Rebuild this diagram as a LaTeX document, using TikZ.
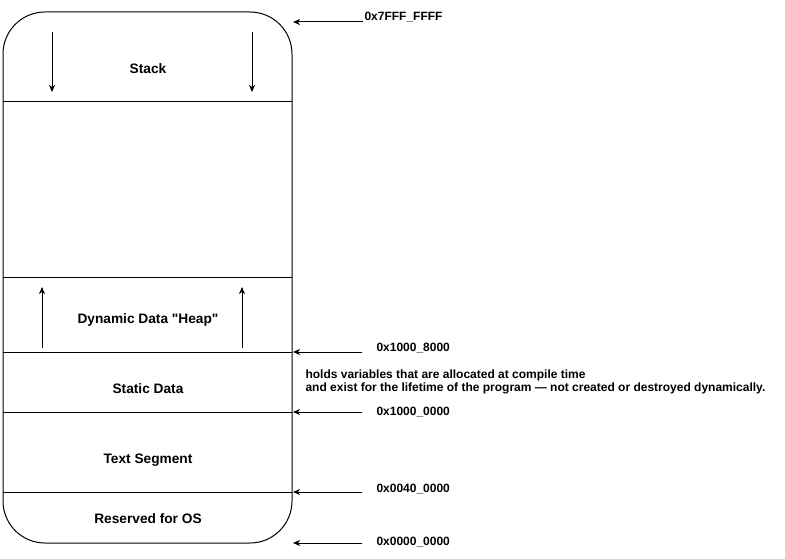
\documentclass[tikz,border=0pt]{standalone}
\usepackage{fontspec}
\setmainfont{Liberation Sans}[Ligatures=TeXOff]
\usetikzlibrary{arrows.meta}
\begin{document}
\begin{tikzpicture}[x=1pt,y=-1pt,
  line width=1pt,
  arr/.style={-{Stealth[length=7pt,width=6pt,inset=2pt]}, line width=1pt},
  lbl/.style={font=\fontsize{13.7}{16}\selectfont\bfseries, inner sep=0pt, text height=10pt, text depth=0pt},
  addr/.style={font=\fontsize{12}{14}\selectfont\bfseries, inner sep=0pt, anchor=west},
  note/.style={font=\fontsize{12}{13}\selectfont\bfseries, inner sep=0pt, anchor=north west, align=left}]
\useasboundingbox (0,0) rectangle (785,559);
% memory box
\draw[rounded corners=42pt] (3,12) rectangle (292,543);
\foreach \y in {102,277,352,412,492} \draw (3,\y) -- (292,\y);
% region labels
\node[lbl] (stack) at (148,68.5) {Stack};
\node[lbl] (heap) at (148,318.5) {Dynamic Data "Heap"};
\node[lbl] (static) at (148,388.5) {Static Data};
\node[lbl] (text) at (148,458.5) {Text Segment};
\node[lbl] (os) at (148,518.5) {Reserved for OS};
% growth arrows
\coordinate (s1a) at (52,32); \coordinate (s1b) at (52,92);
\coordinate (s2a) at (252,32); \coordinate (s2b) at (252,92);
\draw[arr] (s1a) -- (s1b);
\draw[arr] (s2a) -- (s2b);
\coordinate (h1a) at (42,348); \coordinate (h1b) at (42,287);
\coordinate (h2a) at (242,348); \coordinate (h2b) at (242,287);
\draw[arr] (h1a) -- (h1b);
\draw[arr] (h2a) -- (h2b);
% addresses
\node[addr] (a7) at (364,17) {0x7FFF\_FFFF};
\coordinate (a7s) at (363,22); \coordinate (a7e) at (293,22);
\draw[arr] (a7s) -- (a7e);
\node[addr] (a18) at (376,348) {0x1000\_8000};
\coordinate (a18s) at (362,352); \coordinate (a18e) at (293,352);
\draw[arr] (a18s) -- (a18e);
\node[addr] (a10) at (376,412) {0x1000\_0000};
\coordinate (a10s) at (362,412); \coordinate (a10e) at (293,412);
\draw[arr] (a10s) -- (a10e);
\node[addr] (a04) at (376,489) {0x0040\_0000};
\coordinate (a04s) at (362,492); \coordinate (a04e) at (293,492);
\draw[arr] (a04s) -- (a04e);
\node[addr] (a00) at (376,542) {0x0000\_0000};
\coordinate (a00s) at (362,543); \coordinate (a00e) at (293,543);
\draw[arr] (a00s) -- (a00e);
% note
\node[note] (nt) at (305,369) {holds variables that are allocated at compile time\\and exist for the lifetime of the program — not created or destroyed dynamically.};
\end{tikzpicture}
\end{document}
